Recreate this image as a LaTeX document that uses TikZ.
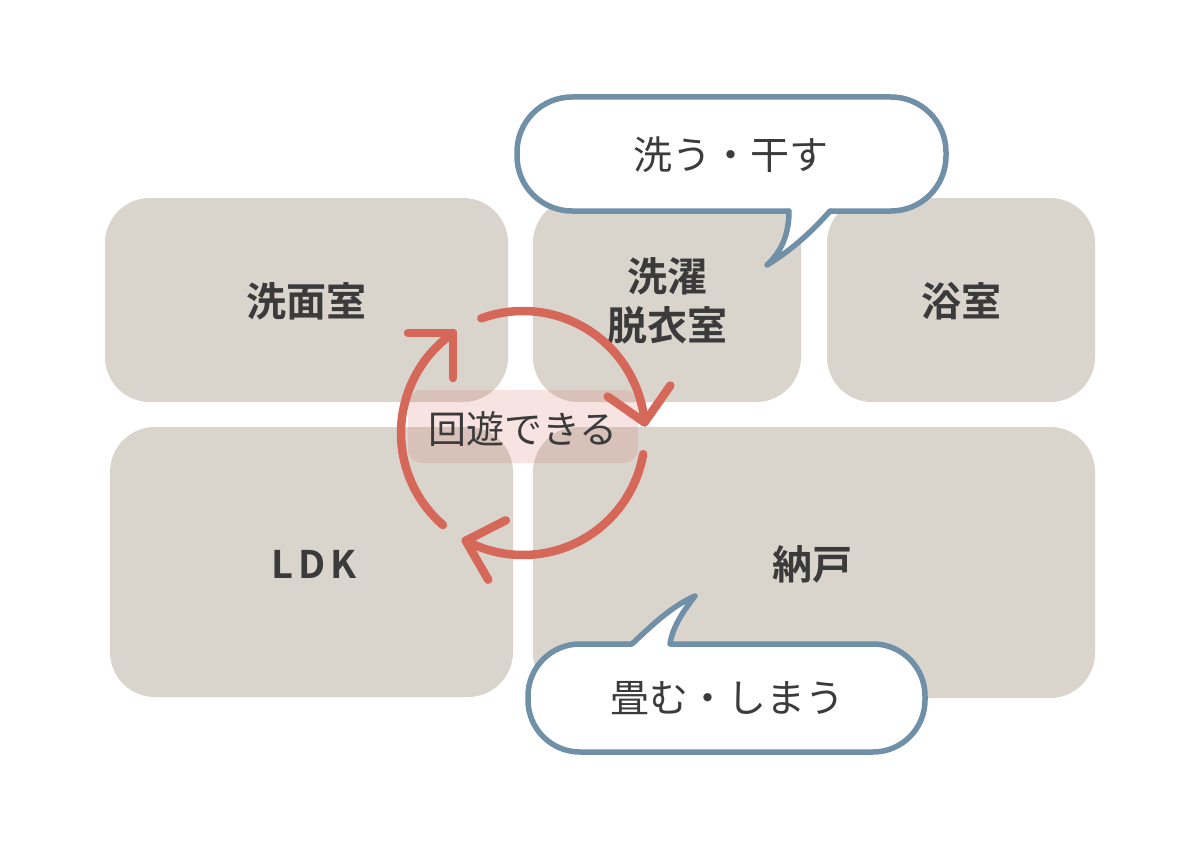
\documentclass[tikz,border=0pt]{standalone}
\usepackage{fontspec}
\usetikzlibrary{calc}
\newfontfamily\cjk{Noto Sans CJK JP}
\newfontfamily\cjkb{Noto Sans CJK JP Bold}
\newfontfamily\cjkbl[LetterSpace=12]{Noto Sans CJK JP Bold}
\definecolor{roomgray}{HTML}{D9D5CD}
\definecolor{inkgray}{HTML}{3B3B3B}
\definecolor{loopred}{HTML}{D66859}
\definecolor{bubbleblue}{HTML}{7090A8}
\tikzset{
  room/.style={fill=roomgray, draw=none, rounded corners=45pt},
  roomlabel/.style={text=inkgray, font=\cjkb\fontsize{40}{49}\selectfont, align=center, inner sep=0pt},
  looparc/.style={draw=loopred, line width=8.5pt, line cap=round, line join=round},
  bubble/.style={draw=bubbleblue, fill=white, line width=5.5pt, line join=round},
  bubbleline/.style={draw=bubbleblue, line width=5.5pt, line join=round, line cap=round},
  bubbletext/.style={text=inkgray, font=\cjk\fontsize{39}{46}\selectfont, inner sep=0pt},
}
\begin{document}
\begin{tikzpicture}[x=1pt,y=-1pt]
\useasboundingbox[fill=white] (0,0) rectangle (1200,848);
% rooms
\path[room] (105,198) rectangle (508,402);
\path[room] (533,198) rectangle (801,402);
\path[room] (827,198) rectangle (1095,402);
\path[room] (110,427) rectangle (513,697);
\path[room] (533,427) rectangle (1095,698);
\node[roomlabel] (senmen) at (306,301) {洗面室};
\node[roomlabel] (sentaku) at (667,301) {洗濯\\脱衣室};
\node[roomlabel] (yokushitsu) at (961,301) {浴室};
\node[roomlabel, font=\cjkbl\fontsize{38}{46}\selectfont] (ldk) at (314,564) {LDK};
\node[roomlabel] (nando) at (812,564) {納戸};
% loop label background
\path[fill=loopred, fill opacity=0.18, rounded corners=14pt] (408,390) rectangle (638,463);
% loop arcs
\coordinate (c) at (523,433);
\coordinate (t1) at ($(c)+(-5:122)$);
\coordinate (t2) at ($(c)+(118:122)$);
\coordinate (t3) at ($(c)+(235:122)$);
\draw[looparc] (c) ++(-110:122) arc[start angle=-110, end angle=-5, radius=122];
\draw[looparc] (c) ++(10:122) arc[start angle=10, end angle=118, radius=122];
\draw[looparc] (c) ++(131:122) arc[start angle=131, end angle=235, radius=122];
\draw[looparc] (t1) ++(-145:45) -- (t1) -- ++(-55:45);
\draw[looparc] (t2) ++(-27:45) -- (t2) -- ++(60:45);
\draw[looparc] (t3) ++(180:45) -- (t3) -- ++(90:45);
\node[bubbletext, font=\cjk\fontsize{38}{44}\selectfont] (kaiyu) at (523,429) {回遊できる};
% bubble 1
\path[bubble, rounded corners=55pt] (517,97) rectangle (946,211);
\fill[white] (789,203) -- (789,211)
  .. controls (789,235) and (781,252) .. (767,265)
  .. controls (795,248) and (815,228) .. (830,211) -- (830,203) -- cycle;
\draw[bubbleline] (789,211)
  .. controls (789,235) and (781,252) .. (767,265)
  .. controls (795,248) and (815,228) .. (830,211);
\node[bubbletext] (arau) at (731,155) {洗う・干す};
% bubble 2
\path[bubble, rounded corners=52pt] (528,644) rectangle (925,752);
\fill[white] (632,652) -- (632,644)
  .. controls (652,625) and (672,606) .. (695,596)
  .. controls (680,615) and (672,630) .. (670,644) -- (670,652) -- cycle;
\draw[bubbleline] (632,644)
  .. controls (652,625) and (672,606) .. (695,596)
  .. controls (680,615) and (672,630) .. (670,644);
\node[bubbletext] (tatamu) at (727,698) {畳む・しまう};
\end{tikzpicture}
\end{document}
